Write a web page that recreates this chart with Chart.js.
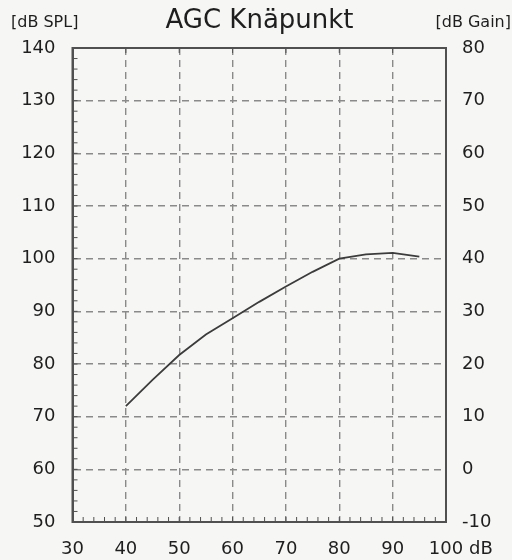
<!DOCTYPE html>
<html>
<head>
<meta charset="utf-8">
<script src="https://cdn.jsdelivr.net/npm/chart.js@4/dist/chart.umd.min.js"></script>
<style>
html,body{margin:0;padding:0;background:#f6f6f4;}
#wrap{width:512px;height:560px;}
</style>
</head>
<body>
<div id="wrap"><canvas id="c" width="512" height="560"></canvas></div>
<script>
const inputLevels = [40, 45, 50, 55, 60, 65, 70, 75, 80, 85, 90, 95];
const outputSPL   = [72, 77, 81.7, 85.6, 88.7, 91.8, 94.7, 97.5, 100, 100.8, 101.1, 100.4];
const xTicks = [30, 40, 50, 60, 70, 80, 90, 100];
const leftTicks = [50, 60, 70, 80, 90, 100, 110, 120, 130, 140];
const rightTicks = [-10, 0, 10, 20, 30, 40, 50, 60, 70, 80];
const titleText = 'AGC Knäpunkt';
const leftUnit = '[dB SPL]';
const rightUnit = '[dB Gain]';
const xUnit = 'dB';

const FONT = '"DejaVu Sans", Arial, sans-serif';
const TXT = '#1e1e1e';

const decor = {
  id: 'decor',
  beforeDraw(chart) {
    const ctx = chart.ctx;
    ctx.save();
    ctx.fillStyle = '#f6f6f4';
    ctx.fillRect(0, 0, chart.width, chart.height);
    ctx.restore();
  },
  afterDraw(chart) {
    const ctx = chart.ctx;
    const a = chart.chartArea;
    const xs = chart.scales.x, ys = chart.scales.y;
    ctx.save();
    // frame
    ctx.strokeStyle = '#505050';
    ctx.lineWidth = 2;
    ctx.strokeRect(a.left, a.top, a.right - a.left, a.bottom - a.top);
    // minor ticks
    ctx.lineWidth = 1;
    ctx.beginPath();
    for (let v = 52; v < 140; v += 2) {
      const y = ys.getPixelForValue(v);
      ctx.moveTo(a.left, y); ctx.lineTo(a.left + 5, y);
    }
    for (let v = 32; v < 100; v += 2) {
      const x = xs.getPixelForValue(v);
      ctx.moveTo(x, a.bottom); ctx.lineTo(x, a.bottom - 5);
    }
    for (const v of xTicks) {
      const x = xs.getPixelForValue(v);
      ctx.moveTo(x, a.top); ctx.lineTo(x, a.top + 5);
    }
    ctx.stroke();
    // texts
    ctx.fillStyle = TXT;
    ctx.textBaseline = 'alphabetic';
    ctx.font = '26px ' + FONT;
    ctx.textAlign = 'center';
    ctx.fillText(titleText, 259.5, 28);
    ctx.font = '16px ' + FONT;
    ctx.textAlign = 'left';
    ctx.fillText(leftUnit, 11, 26.5);
    ctx.textAlign = 'right';
    ctx.fillText(rightUnit, 511, 26.5);
    ctx.font = '18px ' + FONT;
    ctx.textAlign = 'left';
    ctx.fillText(xUnit, xs.getPixelForValue(100) + 23, 553.5);
    ctx.restore();
  }
};

new Chart(document.getElementById('c'), {
  type: 'line',
  data: {
    datasets: [{
      data: inputLevels.map((x, i) => ({x: x, y: outputSPL[i]})),
      borderColor: '#3c3c3c',
      borderWidth: 1.8,
      pointRadius: 0,
      tension: 0,
      fill: false,
      yAxisID: 'y'
    }]
  },
  options: {
    responsive: false,
    animation: false,
    layout: {padding: {top: 48, left: 0, right: 0, bottom: 0}},
    plugins: {legend: {display: false}, tooltip: {enabled: false}, title: {display: false}},
    scales: {
      x: {
        type: 'linear', min: 30, max: 100,
        afterBuildTicks: s => { s.ticks = xTicks.map(v => ({value: v})); },
        afterFit: s => { s.height = 38; },
        ticks: {color: TXT, font: {size: 18, family: FONT}, padding: 17, maxRotation: 0, autoSkip: false},
        grid: {color: '#8a8a8a', lineWidth: 1.4, drawTicks: false},
        border: {display: true, color: '#505050', width: 2, dash: [7, 5]}
      },
      y: {
        type: 'linear', position: 'left', min: 50, max: 140,
        afterBuildTicks: s => { s.ticks = leftTicks.map(v => ({value: v})); },
        afterFit: s => { s.width = 72.5; },
        ticks: {color: TXT, font: {size: 18, family: FONT}, padding: 17},
        grid: {color: '#8a8a8a', lineWidth: 1.4, drawTicks: false},
        border: {display: true, color: '#505050', width: 2, dash: [7, 5]}
      },
      y2: {
        type: 'linear', position: 'right', min: -10, max: 80,
        afterBuildTicks: s => { s.ticks = rightTicks.map(v => ({value: v})); },
        afterFit: s => { s.width = 66; },
        ticks: {color: TXT, font: {size: 18, family: FONT}, padding: 16},
        grid: {display: false, drawTicks: false},
        border: {display: true, color: '#505050', width: 2}
      }
    }
  },
  plugins: [decor]
});
</script>
</body>
</html>
